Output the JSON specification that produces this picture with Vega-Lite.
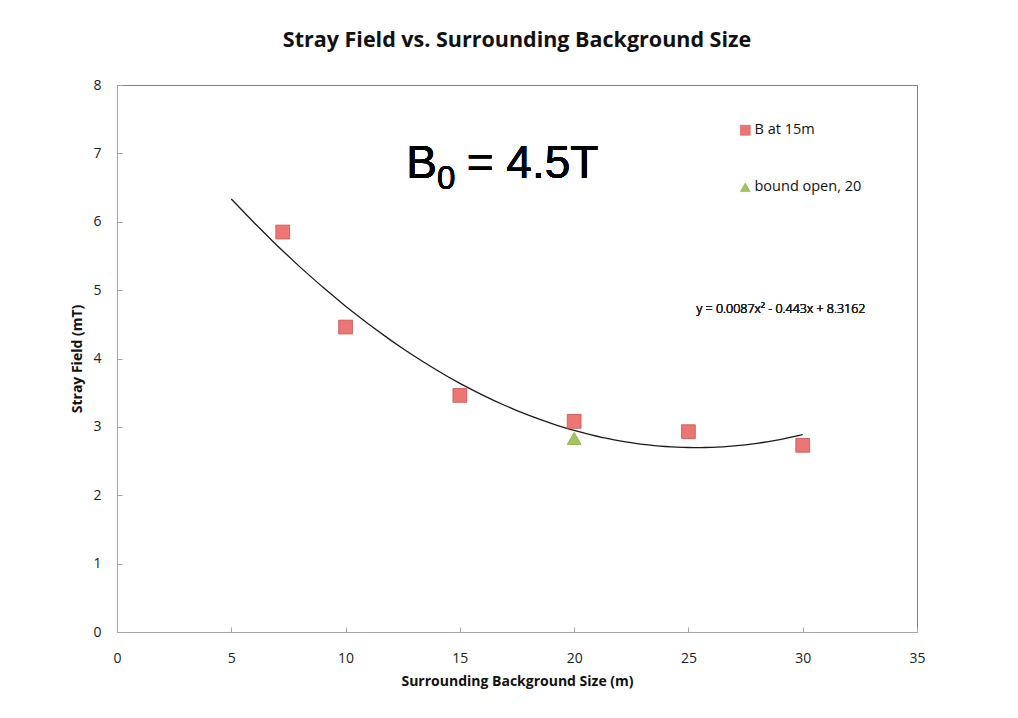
{
  "$schema": "https://vega.github.io/schema/vega-lite/v6.json",
  "width": 800,
  "height": 547,
  "autosize": "none",
  "padding": {"left": 117, "top": 85, "right": 101, "bottom": 86},
  "background": "white",
  "config": {
    "font": "Open Sans",
    "view": {"stroke": "#7f7f7f", "strokeWidth": 1},
    "axis": {
      "grid": false,
      "domainColor": "#a6a6a6",
      "tickColor": "#a6a6a6",
      "tickSize": -5,
      "labelFlush": false,
      "labelFont": "Open Sans",
      "labelFontSize": 14,
      "labelColor": "#222222",
      "titleFont": "Open Sans",
      "titleFontSize": 14,
      "titleFontWeight": "bold",
      "titleColor": "#111111"
    }
  },
  "title": {
    "text": "Stray Field vs. Surrounding Background Size",
    "font": "Open Sans",
    "fontSize": 21.5,
    "fontWeight": "bold",
    "color": "#111111",
    "anchor": "middle",
    "offset": 27
  },
  "data": {
    "values": [
      {"x": 7.25, "y": 5.85, "series": "B at 15m"},
      {"x": 10, "y": 4.46, "series": "B at 15m"},
      {"x": 15, "y": 3.46, "series": "B at 15m"},
      {"x": 20, "y": 3.08, "series": "B at 15m"},
      {"x": 25, "y": 2.93, "series": "B at 15m"},
      {"x": 30, "y": 2.73, "series": "B at 15m"},
      {"x": 20, "y": 2.83, "series": "bound open, 20"}
    ]
  },
  "layer": [
    {
      "transform": [
        {"filter": "datum.series === 'B at 15m'"},
        {"regression": "y", "on": "x", "method": "poly", "order": 2, "extent": [5, 30]}
      ],
      "mark": {"type": "line", "color": "#1a1a1a", "strokeWidth": 1.3},
      "encoding": {
        "x": {"field": "x", "type": "quantitative"},
        "y": {"field": "y", "type": "quantitative"}
      }
    },
    {
      "mark": {"type": "point", "filled": true, "opacity": 1, "strokeWidth": 0.8},
      "encoding": {
        "x": {
          "field": "x",
          "type": "quantitative",
          "scale": {"domain": [0, 35], "nice": false},
          "axis": {"values": [0, 5, 10, 15, 20, 25, 30, 35], "format": "d", "labelPadding": 24, "title": "Surrounding Background Size (m)", "titlePadding": 9}
        },
        "y": {
          "field": "y",
          "type": "quantitative",
          "scale": {"domain": [0, 8], "nice": false},
          "axis": {"values": [0, 1, 2, 3, 4, 5, 6, 7, 8], "format": "d", "labelPadding": 21, "title": "Stray Field (mT)", "titlePadding": 8}
        },
        "shape": {
          "field": "series",
          "type": "nominal",
          "scale": {"domain": ["B at 15m", "bound open, 20"], "range": ["square", "triangle-up"]},
          "legend": {
            "title": null,
            "orient": "none",
            "legendX": 621,
            "legendY": 38,
            "symbolSize": 100,
            "rowPadding": 42,
            "labelFont": "Open Sans",
            "labelFontSize": 14.5,
            "labelColor": "#111111",
            "labelOffset": 2,
            "symbolStrokeWidth": 0.5
          }
        },
        "fill": {
          "field": "series",
          "type": "nominal",
          "scale": {"domain": ["B at 15m", "bound open, 20"], "range": ["#ec7673", "#a3c35f"]},
          "legend": null
        },
        "stroke": {
          "field": "series",
          "type": "nominal",
          "scale": {"domain": ["B at 15m", "bound open, 20"], "range": ["#c9514e", "#86a843"]},
          "legend": null
        },
        "size": {"value": 190}
      }
    },
    {
      "mark": {"type": "text", "text": "B", "font": "Liberation Sans", "fontSize": 46, "fontWeight": "normal", "align": "left", "baseline": "alphabetic", "color": "#000000"},
      "encoding": {"x": {"datum": 12.65}, "y": {"datum": 6.64}}
    },
    {
      "mark": {"type": "text", "text": "0", "font": "Liberation Sans", "fontSize": 33, "fontWeight": "normal", "align": "left", "baseline": "alphabetic", "color": "#000000"},
      "encoding": {"x": {"datum": 14.0}, "y": {"datum": 6.48}}
    },
    {
      "mark": {"type": "text", "text": "= 4.5T", "font": "Liberation Sans", "fontSize": 46, "fontWeight": "normal", "align": "left", "baseline": "alphabetic", "color": "#000000"},
      "encoding": {"x": {"datum": 15.3}, "y": {"datum": 6.64}}
    },
    {
      "mark": {"type": "text", "text": "y = 0.0087x² - 0.443x + 8.3162", "font": "Open Sans", "fontSize": 12.5, "fontWeight": 300, "align": "center", "baseline": "middle", "color": "#222222"},
      "encoding": {"x": {"datum": 29.05}, "y": {"datum": 4.72}}
    }
  ]
}
